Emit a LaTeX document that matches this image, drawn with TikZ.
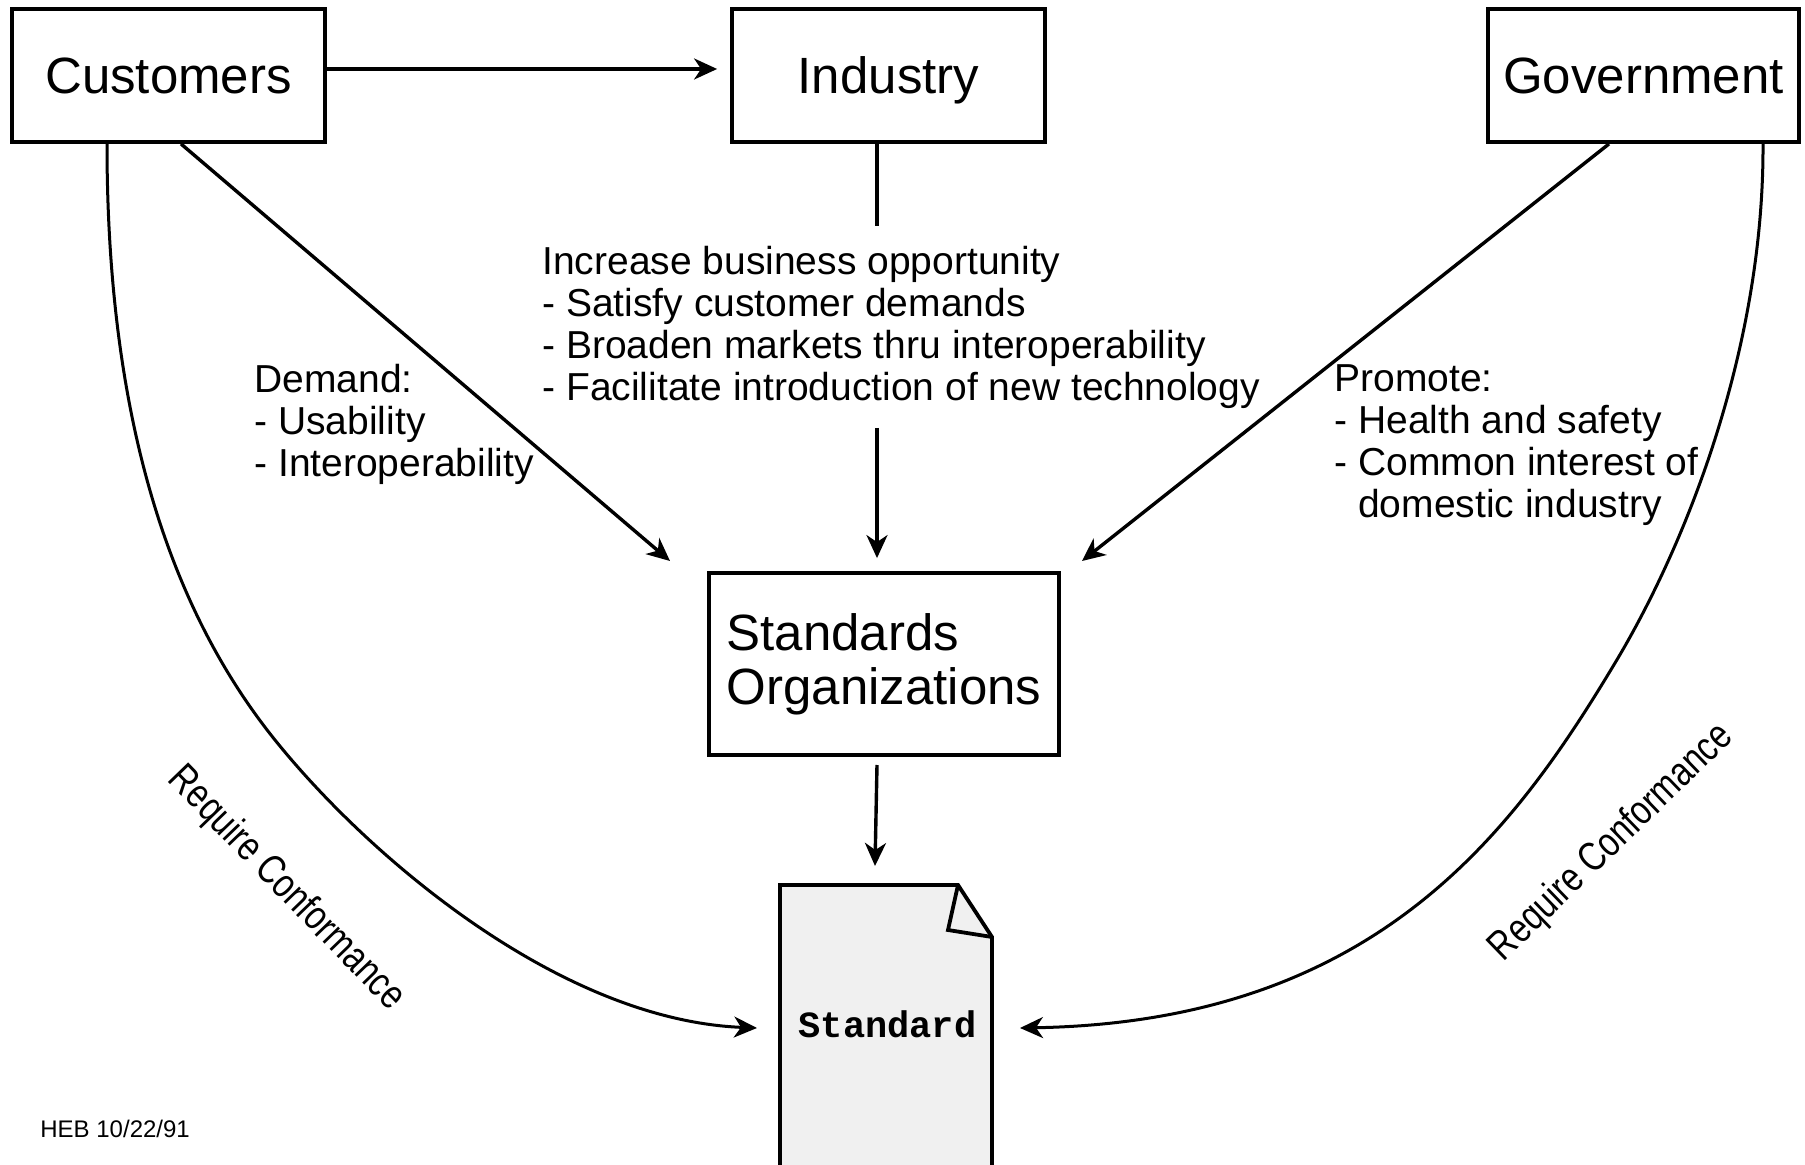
\documentclass[tikz,border=0pt]{standalone}
\usepackage{fontspec}
\setmainfont{Liberation Sans}
\setmonofont{Liberation Mono}
\newfontfamily\condsans[FakeStretch=0.8]{Liberation Sans}
\usetikzlibrary{arrows.meta}
\definecolor{docgray}{RGB}{240,240,240}
\begin{document}
\begin{tikzpicture}[x=0.5pt,y=-0.5pt,
  box/.style={draw, line width=1.9pt, inner sep=0pt, font=\fontsize{25.5}{27}\selectfont},
  tipstyle/.style={-{Stealth[length=11.5pt,width=10.5pt,inset=3.5pt]}},
  arr/.style={line width=1.7pt, tipstyle},
  plain/.style={line width=1.7pt},
  curvearr/.style={line width=1.5pt, tipstyle},
  lbl/.style={font=\fontsize{19.5}{21}\selectfont, align=left, inner sep=0pt},
  rot/.style={font=\condsans\fontsize{20.5}{22}\selectfont, inner sep=0pt}]
\useasboundingbox (0,0) rectangle (1805,1165);

% boxes
\node[box, minimum width=156.5pt, minimum height=66.5pt, text depth=0pt] (cust) at (168.5,75.5) {Customers};
\node[box, minimum width=156.5pt, minimum height=66.5pt, text depth=0pt] (ind) at (888.5,75.5) {Industry};
\node[box, minimum width=155.5pt, minimum height=66.5pt, text depth=0pt] (gov) at (1643.5,75.5) {Government};
\node[box, minimum width=175pt, minimum height=91pt, align=left] (so) at (884,664) {Standards\\Organizations};

% document
\fill[docgray] (780,1180) -- (780,885) -- (958,885) -- (992,937) -- (992,1180) -- cycle;
\draw[line width=1.9pt, line join=miter] (780,1180) -- (780,885) -- (958,885) -- (992,937) -- (992,1180);
\draw[line width=1.9pt, line join=miter] (958,885) -- (948,930) -- (992,937);
\node[font=\ttfamily\bfseries\fontsize{18.5}{20}\selectfont, anchor=base, inner sep=0pt] (doc) at (887.5,1037) {Standard};

% labels
\node[lbl, anchor=north west] (biz) at (542,245.5) {Increase business opportunity\\- Satisfy customer demands\\- Broaden markets thru interoperability\\- Facilitate introduction of new technology};
\node[lbl, anchor=north west] (dem) at (254,364) {Demand:\\- Usability\\- Interoperability};
\node[lbl, anchor=north west] (prom) at (1334,364) {Promote:\\- Health and safety\\- Common interest of\\\phantom{- }domestic industry};
\node[font=\fontsize{12}{14}\selectfont, anchor=base west, inner sep=0pt] (heb) at (40,1137) {HEB 10/22/91};
\node[rot, rotate=-46] (rc1) at (286,889) {Require Conformance};
\node[rot, rotate=44] (rc2) at (1612,843) {Require Conformance};

% connector end points
\coordinate (t1) at (670,561);
\coordinate (ib1) at (877,226);
\coordinate (ib2) at (877,428);
\coordinate (t3) at (1082,561);
\coordinate (s4) at (877,765);
\coordinate (t4) at (875,866);
\coordinate (t5) at (757,1028);
\coordinate (t6) at (1020,1028);

% connectors
\draw[arr, shorten >=6.5pt] (cust.east |- 0,69) -- (ind.west |- 0,69);
\draw[arr] (cust.south -| 181,0) -- (t1);
\draw[plain] (ind.south -| 877,0) -- (ib1);
\draw[arr, shorten >=6.5pt] (ib2) -- (so.north -| 877,0);
\draw[arr] (gov.south -| 1609,0) -- (t3);
\draw[arr] (s4) -- (t4);
\draw[curvearr] (cust.south -| 107,0) .. controls (107,442) and (181,623) .. (275,740)
   .. controls (369,857) and (560,1020) .. (t5);
\draw[curvearr] (gov.south -| 1763,0) .. controls (1764,342) and (1690,540) .. (1612,668)
   .. controls (1509,839) and (1370,1022) .. (t6);
\end{tikzpicture}
\end{document}
